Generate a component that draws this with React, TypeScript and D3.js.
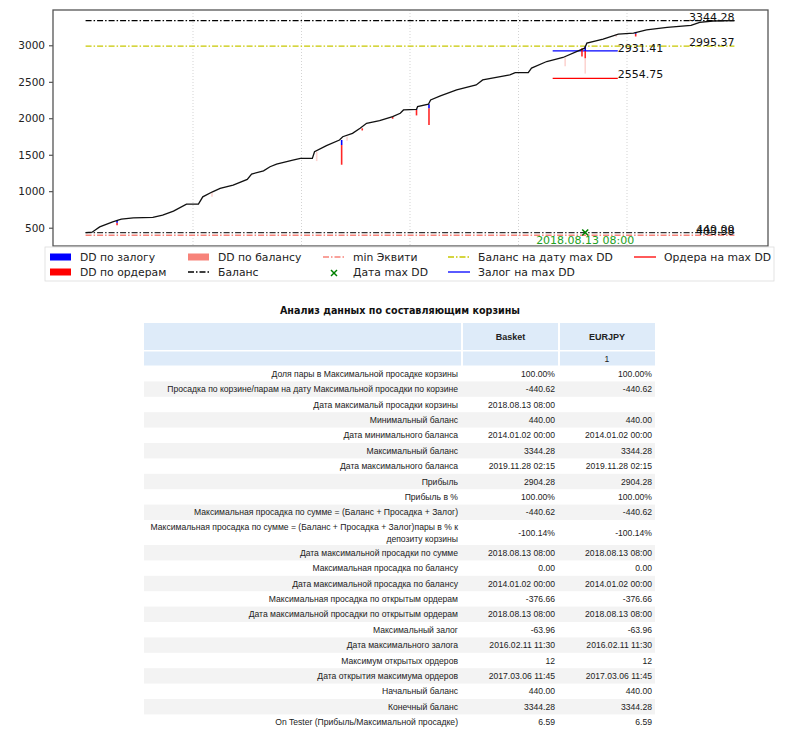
import * as d3 from 'd3';
import { FC } from 'react';

// balance curve (years as decimal, values in account currency)
const balanceYears = [
  2014.01, 2014.07, 2014.14, 2014.26, 2014.31, 2014.34, 2014.45, 2014.63, 2014.72, 2014.82,
  2014.94, 2015.05, 2015.09, 2015.18, 2015.25, 2015.37, 2015.5, 2015.54, 2015.65, 2015.71,
  2015.77, 2015.92, 2015.99, 2016.1, 2016.12, 2016.23, 2016.35, 2016.38, 2016.47, 2016.54,
  2016.6, 2016.72, 2016.84, 2016.91, 2016.94, 2017.06, 2017.07, 2017.17, 2017.19, 2017.28,
  2017.43, 2017.61, 2017.67, 2017.92, 2017.97, 2018.09, 2018.12, 2018.26, 2018.41, 2018.54,
  2018.61, 2018.63, 2018.78, 2018.92, 2019.06, 2019.18, 2019.37, 2019.59, 2019.67, 2019.79,
  2019.99,
];
const balanceValues = [
  440, 445, 518, 587, 610, 624, 642, 647, 679, 734,
  830, 830, 930, 999, 1045, 1090, 1169, 1242, 1287, 1342,
  1379, 1434, 1457, 1457, 1548, 1631, 1709, 1754, 1801, 1869,
  1938, 1974, 2029, 2076, 2121, 2130, 2166, 2199, 2258, 2313,
  2396, 2464, 2533, 2602, 2633, 2633, 2694, 2785, 2840, 2923,
  2968, 3037, 3092, 3160, 3174, 3220, 3252, 3280, 3321, 3340,
  3344.28,
];

// drawdown spikes: balance, equity after margin, after orders, faint tail
const ddYears = [2014.3, 2015.175, 2016.14, 2016.37, 2016.42, 2016.56, 2016.84, 2017.06, 2017.175, 2018.43, 2018.585, 2018.615, 2018.9, 2019.08];
const ddTop = [610, 999, 1548, 1709, 1754, 1869, 2029, 2130, 2199, 2840, 2968, 2995, 3160, 3190];
const ddMarginLow = [575, 999, 1548, 1640, 1754, 1869, 2029, 2120, 2144, 2840, 2968, 2931, 3160, 3165];
const ddOrdersLow = [541, 999, 1548, 1370, 1754, 1840, 2000, 2046, 1915, 2840, 2853, 2830, 3160, 3128];
const ddTailLow = [541, 930, 1420, 1370, 1700, 1840, 2000, 2046, 1915, 2720, 2853, 2620, 3120, 3128];

const yTicks = [500, 1000, 1500, 2000, 2500, 3000];
const yearTicks = [2015, 2016, 2017, 2018, 2019];

const maxBalance = 3344.28;
const minBalance = 440.0;
const minEquity = 403.38;
const balanceAtDD = 2995.37;
const marginAtDD = 2931.41;
const ordersAtDD = 2554.75;
const ddYear = 2018.615;
const ddLabel = '2018.08.13 08:00';

// table
const tableTitle = 'Анализ данных по составляющим корзины';
const tableColumns = ['Basket', 'EURJPY'];
const tableSubHeader = ['', '1'];
const rowLabels = [
  'Доля пары в Максимальной просадке корзины',
  'Просадка по корзине/парам на дату Максимальной просадки по корзине',
  'Дата максимальй просадки корзины',
  'Минимальный баланс',
  'Дата минимального баланса',
  'Максимальный баланс',
  'Дата максимального баланса',
  'Прибыль',
  'Прибыль в %',
  'Максимальная просадка по сумме = (Баланс + Просадка + Залог)',
  'Максимальная просадка по сумме = (Баланс + Просадка + Залог)пары в % к|депозиту корзины',
  'Дата максимальной просадки по сумме',
  'Максимальная просадка по балансу',
  'Дата максимальной просадка по балансу',
  'Максимальная просадка по открытым ордерам',
  'Дата максимальной просадки по открытым ордерам',
  'Максимальный залог',
  'Дата максимального залога',
  'Максимум открытых ордеров',
  'Дата открытия максимума ордеров',
  'Начальный баланс',
  'Конечный баланс',
  'On Tester (Прибыль/Максимальной просадке)',
];
const basketValues = [
  '100.00%', '-440.62', '2018.08.13 08:00', '440.00', '2014.01.02 00:00', '3344.28',
  '2019.11.28 02:15', '2904.28', '100.00%', '-440.62', '-100.14%', '2018.08.13 08:00',
  '0.00', '2014.01.02 00:00', '-376.66', '2018.08.13 08:00', '-63.96', '2016.02.11 11:30',
  '12', '2017.03.06 11:45', '440.00', '3344.28', '6.59',
];
const eurjpyValues = [
  '100.00%', '-440.62', '', '440.00', '2014.01.02 00:00', '3344.28',
  '2019.11.28 02:15', '2904.28', '100.00%', '-440.62', '-100.14%', '2018.08.13 08:00',
  '0.00', '2014.01.02 00:00', '-376.66', '2018.08.13 08:00', '-63.96', '2016.02.11 11:30',
  '12', '2017.03.06 11:45', '440.00', '3344.28', '6.59',
];

const W = 794;
const H = 750;
const plot = { left: 53, right: 768, top: 10, bottom: 246 };
const chartFont = 'DejaVu Sans';
const tableFont = 'Liberation Sans';
const dashDot = '6,2,1.5,2';

const SALMON = '#f7837a';
const YELLOW = '#c8c800';

const Chart: FC = () => {
  const x = d3.scaleLinear().domain([2014, 2020]).range([84.5, 735.5]);
  const y = d3.scaleLinear().domain([256, 3491]).range([plot.bottom, plot.top]);

  const line = d3
    .line<number>()
    .x((_, i) => x(balanceYears[i]))
    .y((d) => y(d));

  const x0 = x(balanceYears[0]);
  const x1 = x(balanceYears[balanceYears.length - 1]);
  const xs = x(ddYear - 0.3);
  const xe = x(ddYear + 0.3);

  const legendCols = [50, 188, 323, 448, 634];
  const legendRows = [257, 272];
  type Item = { col: number; row: number; label: string; kind: 'patch' | 'line' | 'marker'; color: string; dash?: string };
  const legendItems: Item[] = [
    { col: 0, row: 0, label: 'DD по залогу', kind: 'patch', color: '#0000ff' },
    { col: 0, row: 1, label: 'DD по ордерам', kind: 'patch', color: '#ff0000' },
    { col: 1, row: 0, label: 'DD по балансу', kind: 'patch', color: SALMON },
    { col: 1, row: 1, label: 'Баланс', kind: 'line', color: '#000', dash: dashDot },
    { col: 2, row: 0, label: 'min Эквити', kind: 'line', color: SALMON, dash: dashDot },
    { col: 2, row: 1, label: 'Дата max DD', kind: 'marker', color: '#008000' },
    { col: 3, row: 0, label: 'Баланс на дату max DD', kind: 'line', color: YELLOW, dash: dashDot },
    { col: 3, row: 1, label: 'Залог на max DD', kind: 'line', color: '#0000ff' },
    { col: 4, row: 0, label: 'Ордера на max DD', kind: 'line', color: '#ff0000' },
  ];

  const hLabel = (v: number, anchor: 'end' | 'start', xPos: number, dy = 0) => (
    <text x={xPos} y={y(v) + dy} textAnchor={anchor} fontSize={11} fill="#111">
      {v.toFixed(2)}
    </text>
  );

  return (
    <g fontFamily={chartFont}>
      <rect x={plot.left} y={plot.top} width={plot.right - plot.left} height={plot.bottom - plot.top} fill="#fff" />
      {yearTicks.map((t) => (
        <line key={t} x1={x(t)} x2={x(t)} y1={plot.top} y2={plot.bottom} stroke="#c8c8c8" strokeWidth={0.8} strokeDasharray="1,2" />
      ))}
      {/* horizontal reference lines */}
      <line x1={x0} x2={x1} y1={y(maxBalance)} y2={y(maxBalance)} stroke="#000" strokeWidth={1.3} strokeDasharray={dashDot} />
      <line x1={x0} x2={x1} y1={y(balanceAtDD)} y2={y(balanceAtDD)} stroke={YELLOW} strokeWidth={1.3} strokeDasharray={dashDot} />
      <line x1={x0} x2={x1} y1={y(minEquity)} y2={y(minEquity)} stroke={SALMON} strokeWidth={1.3} strokeDasharray={dashDot} />
      <line x1={x0} x2={x1} y1={y(minBalance)} y2={y(minBalance)} stroke="#333" strokeWidth={1.3} strokeDasharray={dashDot} />
      <line x1={xs} x2={xe} y1={y(marginAtDD)} y2={y(marginAtDD)} stroke="#0000ff" strokeWidth={1.3} />
      <line x1={xs} x2={xe} y1={y(ordersAtDD)} y2={y(ordersAtDD)} stroke="#ff0000" strokeWidth={1.3} />
      {/* drawdown spikes */}
      {ddYears.map((yr, i) => (
        <g key={i} strokeWidth={1.6}>
          <line x1={x(yr)} x2={x(yr)} y1={y(ddOrdersLow[i])} y2={y(ddTailLow[i])} stroke={SALMON} strokeOpacity={0.35} />
          <line x1={x(yr)} x2={x(yr)} y1={y(ddMarginLow[i])} y2={y(ddOrdersLow[i])} stroke="#ff0000" strokeOpacity={0.85} />
          <line x1={x(yr)} x2={x(yr)} y1={y(ddTop[i])} y2={y(ddMarginLow[i])} stroke="#0000ff" />
        </g>
      ))}
      <path d={line(balanceValues) || ''} fill="none" stroke="#111" strokeWidth={1.3} />
      {/* annotations */}
      {hLabel(maxBalance, 'end', x1)}
      {hLabel(balanceAtDD, 'end', x1)}
      {hLabel(marginAtDD, 'start', xe, 1)}
      {hLabel(ordersAtDD, 'start', xe)}
      {hLabel(minBalance, 'end', x1)}
      {hLabel(minEquity, 'end', x1, 0)}
      <g stroke="#008000" strokeWidth={1.5}>
        <line x1={x(ddYear) - 3} x2={x(ddYear) + 3} y1={y(minBalance) - 3} y2={y(minBalance) + 3} />
        <line x1={x(ddYear) - 3} x2={x(ddYear) + 3} y1={y(minBalance) + 3} y2={y(minBalance) - 3} />
      </g>
      <text x={x(ddYear)} y={y(minBalance) + 11} textAnchor="middle" fontSize={11} fill="#22a022">
        {ddLabel}
      </text>
      {/* y axis */}
      {yTicks.map((t) => (
        <g key={t}>
          <line x1={plot.left - 4} x2={plot.left} y1={y(t)} y2={y(t)} stroke="#333" />
          <text x={plot.left - 8} y={y(t)} dy="0.35em" textAnchor="end" fontSize={10.5} fill="#222">
            {t}
          </text>
        </g>
      ))}
      <rect x={plot.left} y={plot.top} width={plot.right - plot.left} height={plot.bottom - plot.top} fill="none" stroke="#555" strokeWidth={1.3} />
      {/* legend */}
      <rect x={45} y={247} width={729} height={34} fill="#fff" fillOpacity={0.95} stroke="#ddd" strokeWidth={0.8} />
      {legendItems.map((it) => {
        const cx = legendCols[it.col];
        const cy = legendRows[it.row];
        return (
          <g key={it.label}>
            {it.kind === 'patch' && <rect x={cx} y={cy - 3.5} width={21} height={7} fill={it.color} />}
            {it.kind === 'line' && (
              <line x1={cx} x2={cx + 22} y1={cy} y2={cy} stroke={it.color} strokeWidth={1.3} strokeDasharray={it.dash} />
            )}
            {it.kind === 'marker' && (
              <g stroke={it.color} strokeWidth={1.5}>
                <line x1={cx + 8} x2={cx + 14} y1={cy - 2} y2={cy + 4} />
                <line x1={cx + 8} x2={cx + 14} y1={cy + 4} y2={cy - 2} />
              </g>
            )}
            <text x={cx + 30} y={cy} dy="0.35em" fontSize={10.8} fill="#222">
              {it.label}
            </text>
          </g>
        );
      })}
    </g>
  );
};

const Table: FC = () => {
  const left = 144;
  const colX = [462, 559, 655];
  const rowH = 15.4;
  const tallH = 25;
  const top = 366;
  const tops: number[] = [];
  let acc = top;
  rowLabels.forEach((l) => {
    tops.push(acc);
    acc += l.includes('|') ? tallH : rowH;
  });

  return (
    <g fontFamily={tableFont} fontSize={8.6} fill="#222">
      <text x={400} y={311} dy="0.35em" textAnchor="middle" fontFamily={chartFont} fontWeight="bold" fontSize={9.6} fill="#111">
        {tableTitle}
      </text>
      <rect x={left} y={323} width={colX[2] - left} height={27} fill="#deebf9" />
      <rect x={left} y={351.5} width={colX[2] - left} height={14} fill="#deebf9" />
      {[colX[0], colX[1]].map((cx) => (
        <line key={cx} x1={cx} x2={cx} y1={323} y2={366} stroke="#fff" strokeWidth={2} />
      ))}
      {tableColumns.map((c, i) => (
        <text key={c} x={(colX[i] + colX[i + 1]) / 2} y={337} dy="0.35em" textAnchor="middle" fontWeight="bold" fontSize={9}>
          {c}
        </text>
      ))}
      {tableSubHeader.map((c, i) => (
        <text key={i} x={(colX[i] + colX[i + 1]) / 2} y={358.5} dy="0.35em" textAnchor="middle" fontSize={8.6}>
          {c}
        </text>
      ))}
      {rowLabels.map((label, i) => {
        const h = label.includes('|') ? tallH : rowH;
        const cy = tops[i] + h / 2;
        const lines = label.split('|');
        return (
          <g key={i}>
            {i % 2 === 1 && <rect x={left} y={tops[i]} width={colX[2] - left} height={h} fill="#f3f3f3" />}
            {lines.map((t, j) => (
              <text key={j} x={colX[0] - 4} y={cy + (j - (lines.length - 1) / 2) * 12} dy="0.35em" textAnchor="end">
                {t}
              </text>
            ))}
            <text x={colX[1] - 4} y={cy} dy="0.35em" textAnchor="end">
              {basketValues[i]}
            </text>
            <text x={colX[2] - 3} y={cy} dy="0.35em" textAnchor="end">
              {eurjpyValues[i]}
            </text>
          </g>
        );
      })}
    </g>
  );
};

const App: FC = () => (
  <svg width={W} height={H} style={{ position: 'absolute', left: 0, top: 0, display: 'block', background: '#fff' }}>
    <rect width={W} height={H} fill="#fff" />
    <Chart />
    <Table />
  </svg>
);

export default App;
